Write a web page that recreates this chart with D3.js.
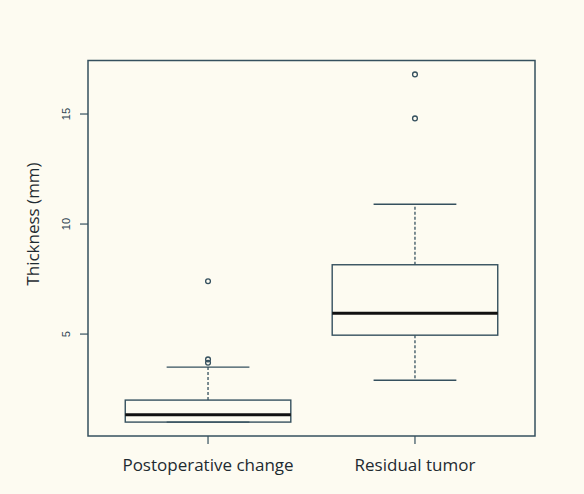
<!DOCTYPE html>
<html>
<head>
<meta charset="utf-8">
<script src="https://d3js.org/d3.v7.min.js"></script>
<style>
  body { margin: 0; background: #fdfbf1; }
  svg { display: block; }
</style>
</head>
<body>
<div id="chart"></div>
<script>
// box statistics (mm)
const groups = ["Postoperative change", "Residual tumor"];
const lowerWhisker = [1.0, 2.9];
const q1 = [1.0, 4.95];
const median = [1.33, 5.95];
const q3 = [2.0, 8.15];
const upperWhisker = [3.5, 10.9];
const outliers = [[3.7, 3.85, 7.4], [14.8, 16.8]];
const yTicks = [5, 10, 15];

const width = 584, height = 494;
const plotLeft = 88, plotRight = 535, plotTop = 60.5, plotBottom = 436;
const lineColor = "#35505e";

const svg = d3.select("#chart").append("svg")
    .attr("width", width).attr("height", height);

svg.append("rect")
    .attr("width", width).attr("height", height)
    .attr("fill", "#fdfbf1");

// R style ranges: pad data range by 4%
const allVals = lowerWhisker.concat(upperWhisker, outliers.flat());
const lo = d3.min(allVals), hi = d3.max(allVals), pad = (hi - lo) * 0.04;

const y = d3.scaleLinear()
    .domain([lo - pad, hi + pad])
    .range([plotBottom, plotTop]);

const x = d3.scaleLinear()
    .domain([0.5 - 0.08, groups.length + 0.5 + 0.08])
    .range([plotLeft, plotRight]);

const boxW = x(1.4) - x(1);   // half of 0.8 box width
const capW = boxW / 2;

const g = svg.append("g")
    .attr("stroke", lineColor)
    .attr("fill", "none");

groups.forEach(function (name, i) {
    const cx = x(i + 1);

    // whiskers
    g.append("line")
        .attr("x1", cx).attr("x2", cx)
        .attr("y1", y(q3[i])).attr("y2", y(upperWhisker[i]))
        .attr("stroke-width", 1.3)
        .attr("stroke-dasharray", "3,2");
    g.append("line")
        .attr("x1", cx).attr("x2", cx)
        .attr("y1", y(q1[i])).attr("y2", y(lowerWhisker[i]))
        .attr("stroke-width", 1.3)
        .attr("stroke-dasharray", "3,2");
    [upperWhisker[i], lowerWhisker[i]].forEach(function (v) {
        g.append("line")
            .attr("x1", cx - capW).attr("x2", cx + capW)
            .attr("y1", y(v)).attr("y2", y(v))
            .attr("stroke-width", 1.4);
    });

    // box
    g.append("rect")
        .attr("x", cx - boxW).attr("width", boxW * 2)
        .attr("y", y(q3[i])).attr("height", y(q1[i]) - y(q3[i]))
        .attr("stroke-width", 1.4);

    // median
    g.append("line")
        .attr("x1", cx - boxW).attr("x2", cx + boxW)
        .attr("y1", y(median[i])).attr("y2", y(median[i]))
        .attr("stroke", "#111")
        .attr("stroke-width", 3);

    // outliers
    g.selectAll(null)
        .data(outliers[i])
        .join("circle")
        .attr("cx", cx)
        .attr("cy", d => y(d))
        .attr("r", 2.4)
        .attr("stroke-width", 1.3);
});

// frame
svg.append("rect")
    .attr("x", plotLeft).attr("y", plotTop)
    .attr("width", plotRight - plotLeft).attr("height", plotBottom - plotTop)
    .attr("fill", "none")
    .attr("stroke", lineColor)
    .attr("stroke-width", 1.5);

// y axis ticks + rotated labels
yTicks.forEach(function (t) {
    svg.append("line")
        .attr("x1", plotLeft - 8).attr("x2", plotLeft)
        .attr("y1", y(t)).attr("y2", y(t))
        .attr("stroke", lineColor).attr("stroke-width", 1.2);
    svg.append("text")
        .attr("transform", `translate(70, ${y(t)}) rotate(-90)`)
        .attr("text-anchor", "middle")
        .style("font-family", "Liberation Sans, Arial, sans-serif")
        .style("font-size", "11px")
        .style("fill", "#2d4250")
        .text(t);
});

// x axis ticks + labels
groups.forEach(function (name, i) {
    const cx = x(i + 1);
    svg.append("line")
        .attr("x1", cx).attr("x2", cx)
        .attr("y1", plotBottom).attr("y2", plotBottom + 8)
        .attr("stroke", lineColor).attr("stroke-width", 1.2);
    svg.append("text")
        .attr("x", cx).attr("y", 471)
        .attr("text-anchor", "middle")
        .style("font-family", "Open Sans, Noto Sans, sans-serif")
        .style("font-size", "17px")
        .style("fill", "#1e2a30")
        .text(name);
});

// y title
svg.append("text")
    .attr("transform", "translate(39, 224) rotate(-90)")
    .attr("text-anchor", "middle")
    .style("font-family", "Open Sans, Noto Sans, sans-serif")
    .style("font-size", "17px")
    .style("fill", "#1e2a30")
    .text("Thickness (mm)");
</script>
</body>
</html>
